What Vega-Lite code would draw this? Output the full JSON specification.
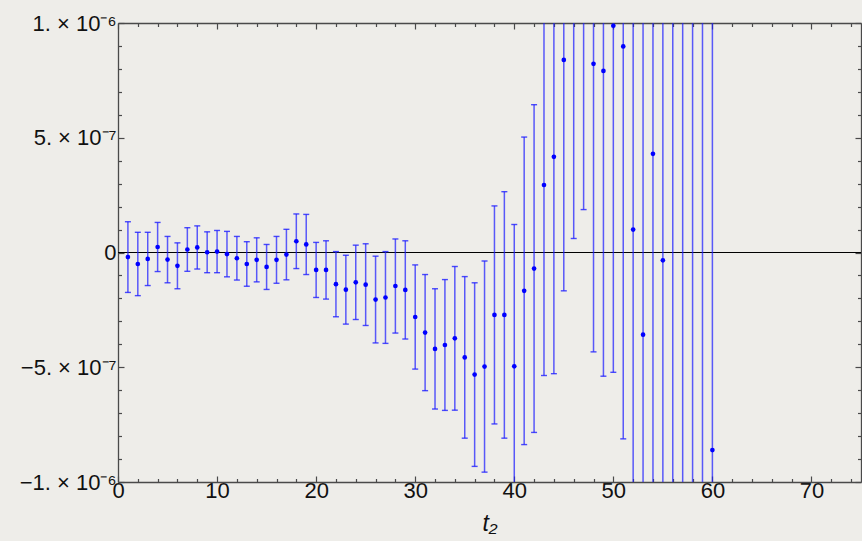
{
  "$schema": "https://vega.github.io/schema/vega-lite/v6.json",
  "width": 743,
  "height": 459,
  "autosize": {"type": "none"},
  "padding": {"left": 118, "top": 23, "right": 1, "bottom": 59},
  "background": "#eeede9",
  "config": {
    "view": {"stroke": null},
    "axis": {
      "grid": false,
      "domainColor": "#4a4a4a",
      "domainWidth": 1.3,
      "tickColor": "#4a4a4a",
      "tickWidth": 1.2,
      "labelFont": "Liberation Sans",
      "labelFontSize": 22,
      "labelColor": "#111111",
      "labelFlush": false,
      "labelOverlap": false,
      "titleFont": "Liberation Sans",
      "titleFontStyle": "italic",
      "titleFontWeight": "normal",
      "titleFontSize": 23,
      "titleColor": "#111111"
    }
  },
  "data": {
    "values": [
      {"t": 1, "value": -2.0e-8, "lo": -1.74e-7, "hi": 1.34e-7},
      {"t": 2, "value": -5.0e-8, "lo": -1.88e-7, "hi": 8.8e-8},
      {"t": 3, "value": -2.8e-8, "lo": -1.44e-7, "hi": 8.8e-8},
      {"t": 4, "value": 2.4e-8, "lo": -8.3e-8, "hi": 1.31e-7},
      {"t": 5, "value": -3.1e-8, "lo": -1.32e-7, "hi": 7.0e-8},
      {"t": 6, "value": -5.8e-8, "lo": -1.58e-7, "hi": 4.2e-8},
      {"t": 7, "value": 1.3e-8, "lo": -8.2e-8, "hi": 1.08e-7},
      {"t": 8, "value": 2.2e-8, "lo": -7.2e-8, "hi": 1.16e-7},
      {"t": 9, "value": 1.0e-9, "lo": -8.8e-8, "hi": 9.0e-8},
      {"t": 10, "value": 4.0e-9, "lo": -8.8e-8, "hi": 9.6e-8},
      {"t": 11, "value": -7.0e-9, "lo": -1.06e-7, "hi": 9.2e-8},
      {"t": 12, "value": -2.5e-8, "lo": -1.2e-7, "hi": 7.0e-8},
      {"t": 13, "value": -5.0e-8, "lo": -1.47e-7, "hi": 4.7e-8},
      {"t": 14, "value": -3.2e-8, "lo": -1.28e-7, "hi": 6.4e-8},
      {"t": 15, "value": -6.3e-8, "lo": -1.61e-7, "hi": 3.5e-8},
      {"t": 16, "value": -3.2e-8, "lo": -1.34e-7, "hi": 7.0e-8},
      {"t": 17, "value": -9.0e-9, "lo": -1.19e-7, "hi": 1.01e-7},
      {"t": 18, "value": 4.9e-8, "lo": -7.0e-8, "hi": 1.68e-7},
      {"t": 19, "value": 3.5e-8, "lo": -9.6e-8, "hi": 1.66e-7},
      {"t": 20, "value": -7.6e-8, "lo": -1.96e-7, "hi": 4.4e-8},
      {"t": 21, "value": -7.6e-8, "lo": -2.03e-7, "hi": 5.1e-8},
      {"t": 22, "value": -1.38e-7, "lo": -2.8e-7, "hi": 4.0e-9},
      {"t": 23, "value": -1.62e-7, "lo": -3.12e-7, "hi": -1.2e-8},
      {"t": 24, "value": -1.3e-7, "lo": -2.92e-7, "hi": 3.2e-8},
      {"t": 25, "value": -1.4e-7, "lo": -3.18e-7, "hi": 3.8e-8},
      {"t": 26, "value": -2.05e-7, "lo": -3.94e-7, "hi": -1.6e-8},
      {"t": 27, "value": -1.96e-7, "lo": -3.96e-7, "hi": 4.0e-9},
      {"t": 28, "value": -1.46e-7, "lo": -3.51e-7, "hi": 5.9e-8},
      {"t": 29, "value": -1.63e-7, "lo": -3.77e-7, "hi": 5.1e-8},
      {"t": 30, "value": -2.81e-7, "lo": -5.08e-7, "hi": -5.4e-8},
      {"t": 31, "value": -3.49e-7, "lo": -6.02e-7, "hi": -9.6e-8},
      {"t": 32, "value": -4.2e-7, "lo": -6.82e-7, "hi": -1.58e-7},
      {"t": 33, "value": -4.03e-7, "lo": -6.88e-7, "hi": -1.18e-7},
      {"t": 34, "value": -3.74e-7, "lo": -6.87e-7, "hi": -6.1e-8},
      {"t": 35, "value": -4.57e-7, "lo": -8.09e-7, "hi": -1.05e-7},
      {"t": 36, "value": -5.32e-7, "lo": -9.32e-7, "hi": -1.32e-7},
      {"t": 37, "value": -4.97e-7, "lo": -9.57e-7, "hi": -3.7e-8},
      {"t": 38, "value": -2.72e-7, "lo": -7.47e-7, "hi": 2.03e-7},
      {"t": 39, "value": -2.72e-7, "lo": -8.09e-7, "hi": 2.65e-7},
      {"t": 40, "value": -4.96e-7, "lo": -1.114e-6, "hi": 1.22e-7},
      {"t": 41, "value": -1.67e-7, "lo": -8.37e-7, "hi": 5.03e-7},
      {"t": 42, "value": -7.0e-8, "lo": -7.84e-7, "hi": 6.44e-7},
      {"t": 43, "value": 2.94e-7, "lo": -5.36e-7, "hi": 1.124e-6},
      {"t": 44, "value": 4.17e-7, "lo": -5.28e-7, "hi": 1.362e-6},
      {"t": 45, "value": 8.39e-7, "lo": -1.67e-7, "hi": 1.845e-6},
      {"t": 46, "value": 1.1e-6, "lo": 6.1e-8, "hi": 2.14e-6},
      {"t": 47, "value": 1.25e-6, "lo": 1.87e-7, "hi": 2.31e-6},
      {"t": 48, "value": 8.22e-7, "lo": -4.33e-7, "hi": 2.077e-6},
      {"t": 49, "value": 7.91e-7, "lo": -5.39e-7, "hi": 2.121e-6},
      {"t": 50, "value": 9.88e-7, "lo": -5.22e-7, "hi": 2.498e-6},
      {"t": 51, "value": 8.98e-7, "lo": -8.12e-7, "hi": 2.608e-6},
      {"t": 52, "value": 1.0e-7, "lo": -1.8e-6, "hi": 2.0e-6},
      {"t": 53, "value": -3.58e-7, "lo": -2.46e-6, "hi": 1.74e-6},
      {"t": 54, "value": 4.3e-7, "lo": -1.87e-6, "hi": 2.73e-6},
      {"t": 55, "value": -3.4e-8, "lo": -2.53e-6, "hi": 2.47e-6},
      {"t": 56, "value": 1.5e-6, "lo": -1.5e-6, "hi": 4.5e-6},
      {"t": 57, "value": -1.4e-6, "lo": -4.6e-6, "hi": 1.8e-6},
      {"t": 58, "value": 1.8e-6, "lo": -1.7e-6, "hi": 5.3e-6},
      {"t": 59, "value": -1.6e-6, "lo": -5.4e-6, "hi": 2.2e-6},
      {"t": 60, "value": -8.61e-7, "lo": -4.86e-6, "hi": 3.14e-6}
    ]
  },
  "layer": [
    {
      "mark": {"type": "rule", "color": "#000000", "strokeWidth": 1},
      "encoding": {
        "y": {"datum": 0, "type": "quantitative", "scale": {"domain": [-1e-6, 1e-6], "nice": false, "zero": false}, "axis": null}
      }
    },
    {
      "mark": {"type": "rule", "clip": true, "color": "#1f1fff", "opacity": 0.72, "strokeWidth": 1.5},
      "encoding": {
        "x": {
          "field": "t", "type": "quantitative",
          "scale": {"domain": [0, 75], "nice": false, "zero": false},
          "axis": {
            "orient": "top", "title": null, "labels": false,
            "values": [0,2,4,6,8,10,12,14,16,18,20,22,24,26,28,30,32,34,36,38,40,42,44,46,48,50,52,54,56,58,60,62,64,66,68,70,72,74],
            "tickSize": {"condition": {"test": "datum.value % 10 === 0", "value": -6}, "value": -3.5}
          }
        },
        "y": {
          "field": "lo", "type": "quantitative",
          "scale": {"domain": [-1e-6, 1e-6], "nice": false, "zero": false},
          "axis": {
            "orient": "right", "title": null, "labels": false,
            "values": [-1e-6,-9e-7,-8e-7,-7e-7,-6e-7,-5e-7,-4e-7,-3e-7,-2e-7,-1e-7,0,1e-7,2e-7,3e-7,4e-7,5e-7,6e-7,7e-7,8e-7,9e-7,1e-6],
            "tickSize": {"condition": {"test": "round(datum.value*1e7) % 5 === 0", "value": -6}, "value": -3.5}
          }
        },
        "y2": {"field": "hi"}
      }
    },
    {
      "mark": {"type": "tick", "clip": true, "orient": "horizontal", "color": "#1f1fff", "opacity": 0.8, "size": 6, "thickness": 1.4},
      "encoding": {
        "x": {"field": "t", "type": "quantitative", "scale": {"domain": [0, 75], "nice": false, "zero": false}, "axis": null},
        "y": {"field": "lo", "type": "quantitative", "scale": {"domain": [-1e-6, 1e-6], "nice": false, "zero": false}, "axis": null}
      }
    },
    {
      "mark": {"type": "tick", "clip": true, "orient": "horizontal", "color": "#1f1fff", "opacity": 0.8, "size": 6, "thickness": 1.4},
      "encoding": {
        "x": {"field": "t", "type": "quantitative", "scale": {"domain": [0, 75], "nice": false, "zero": false}, "axis": null},
        "y": {"field": "hi", "type": "quantitative", "scale": {"domain": [-1e-6, 1e-6], "nice": false, "zero": false}, "axis": null}
      }
    },
    {
      "mark": {"type": "point", "clip": true, "filled": true, "color": "#0000ff", "opacity": 1, "size": 22},
      "encoding": {
        "x": {
          "field": "t", "type": "quantitative",
          "scale": {"domain": [0, 75], "nice": false, "zero": false},
          "axis": {
            "orient": "bottom", "title": "t₂", "titlePadding": 9,
            "values": [0,2,4,6,8,10,12,14,16,18,20,22,24,26,28,30,32,34,36,38,40,42,44,46,48,50,52,54,56,58,60,62,64,66,68,70,72,74],
            "tickSize": {"condition": {"test": "datum.value % 10 === 0", "value": -6}, "value": -3.5},
            "labelExpr": "datum.value % 10 === 0 ? datum.label : ''",
            "labelPadding": 4
          }
        },
        "y": {
          "field": "value", "type": "quantitative",
          "scale": {"domain": [-1e-6, 1e-6], "nice": false, "zero": false},
          "axis": {
            "orient": "left", "title": null,
            "values": [-1e-6,-9e-7,-8e-7,-7e-7,-6e-7,-5e-7,-4e-7,-3e-7,-2e-7,-1e-7,0,1e-7,2e-7,3e-7,4e-7,5e-7,6e-7,7e-7,8e-7,9e-7,1e-6],
            "tickSize": {"condition": {"test": "round(datum.value*1e7) % 5 === 0", "value": -6}, "value": -3.5},
            "labelExpr": "round(datum.value*1e7) === 10 ? '1. × 10⁻⁶' : round(datum.value*1e7) === 5 ? '5. × 10⁻⁷' : round(datum.value*1e7) === 0 ? '0' : round(datum.value*1e7) === -5 ? '−5. × 10⁻⁷' : round(datum.value*1e7) === -10 ? '−1. × 10⁻⁶' : ''",
            "labelPadding": 8
          }
        }
      }
    }
  ],
  "resolve": {"axis": {"x": "independent", "y": "independent"}}
}
